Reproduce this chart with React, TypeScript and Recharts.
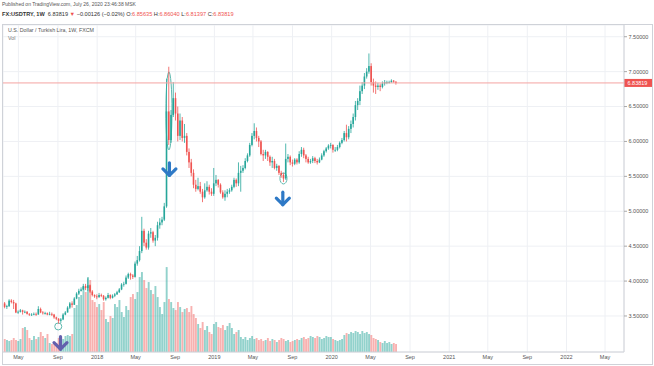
import React from "react";
import { Bar, CartesianGrid, ComposedChart, ReferenceArea, ReferenceDot, ReferenceLine, XAxis, YAxis } from "recharts";

// weekly candles, first bar = week of 2017-03-20; open of each bar = previous close
const firstWeek = "2017-03-20";
const firstOpen = 3.68;

const closes = [
  // 2017
  3.63, 3.64, 3.72, 3.70, 3.68, 3.55, 3.56, 3.58, 3.56, 3.56,
  3.53, 3.52, 3.52, 3.53, 3.52, 3.60, 3.55, 3.54, 3.54, 3.52,
  3.53, 3.52, 3.48, 3.46, 3.43, 3.45, 3.52, 3.55, 3.62, 3.68,
  3.66, 3.75, 3.82, 3.86, 3.88, 3.93, 3.90, 3.94, 3.85, 3.80, 3.78,
  // 2018
  3.77, 3.80, 3.79, 3.74, 3.76, 3.80, 3.76, 3.79, 3.81, 3.84,
  3.88, 3.95, 3.96, 4.05, 4.10, 4.08, 4.06, 4.25, 4.30, 4.43,
  4.72, 4.55, 4.48, 4.68, 4.70, 4.58, 4.62, 4.80, 4.84, 4.88,
  5.07, 6.43, 6.02, 6.38, 6.62, 6.40, 6.08, 6.30, 6.05, 6.08,
  5.85, 5.70, 5.55, 5.38, 5.32, 5.36, 5.28, 5.20, 5.30, 5.35, 5.28, 5.25,
  // 2019
  5.40, 5.45, 5.38, 5.27, 5.20, 5.25, 5.28, 5.30, 5.35, 5.45,
  5.40, 5.55, 5.58, 5.62, 5.72, 5.80, 5.95, 6.08, 6.15, 6.05,
  6.00, 5.82, 5.80, 5.85, 5.78, 5.70, 5.72, 5.62, 5.65, 5.55,
  5.52, 5.47, 5.75, 5.78, 5.70, 5.68, 5.74, 5.70, 5.82, 5.88,
  5.80, 5.75, 5.70, 5.72, 5.76, 5.72, 5.70, 5.74, 5.80, 5.86, 5.90, 5.94,
  // 2020
  5.95, 5.88, 5.88, 5.92, 5.98, 6.02, 6.12, 6.06, 6.18, 6.25,
  6.35, 6.52, 6.58, 6.72, 6.80, 6.93, 7.00, 7.08, 6.85, 6.80,
  6.78, 6.80, 6.78, 6.83, 6.85, 6.85, 6.85, 6.87, 6.85635, 6.83819,
];

const highs = [
  3.70, 3.66, 3.74, 3.74, 3.73, 3.69, 3.58, 3.60, 3.59, 3.58,
  3.57, 3.54, 3.54, 3.55, 3.55, 3.64, 3.62, 3.57, 3.56, 3.55,
  3.56, 3.55, 3.53, 3.49, 3.47, 3.47, 3.54, 3.57, 3.64, 3.70,
  3.71, 3.77, 3.84, 3.89, 3.91, 3.96, 3.96, 4.04, 3.95, 3.87, 3.81,
  3.81, 3.83, 3.82, 3.80, 3.78, 3.83, 3.81, 3.81, 3.83, 3.86,
  3.90, 3.97, 3.99, 4.08, 4.12, 4.12, 4.10, 4.28, 4.36, 4.50,
  4.92, 4.75, 4.60, 4.72, 4.76, 4.72, 4.66, 4.85, 4.90, 4.92,
  5.12, 6.90, 7.07, 6.45, 6.85, 6.70, 6.50, 6.40, 6.35, 6.25,
  6.12, 5.90, 5.75, 5.60, 5.45, 5.48, 5.42, 5.32, 5.40, 5.43, 5.38, 5.33,
  5.62, 5.52, 5.46, 5.40, 5.30, 5.30, 5.32, 5.33, 5.38, 5.48,
  5.47, 5.70, 5.65, 5.66, 5.76, 5.83, 5.98, 6.12, 6.26, 6.20,
  6.08, 6.02, 5.88, 5.88, 5.86, 5.80, 5.78, 5.75, 5.68, 5.66,
  5.58, 5.55, 5.97, 5.82, 5.80, 5.74, 5.76, 5.76, 5.86, 5.92,
  5.91, 5.82, 5.78, 5.75, 5.79, 5.78, 5.75, 5.77, 5.83, 5.88, 5.92, 5.96,
  5.98, 5.96, 5.92, 5.95, 6.00, 6.05, 6.15, 6.24, 6.22, 6.30,
  6.40, 6.58, 6.62, 6.80, 6.85, 6.98, 7.05, 7.26, 7.12, 6.90,
  6.86, 6.84, 6.83, 6.86, 6.88, 6.87, 6.87, 6.89, 6.88, 6.8604,
];

const lows = [
  3.61, 3.60, 3.63, 3.68, 3.60, 3.54, 3.53, 3.55, 3.52, 3.54,
  3.52, 3.50, 3.50, 3.51, 3.50, 3.52, 3.54, 3.52, 3.52, 3.51,
  3.51, 3.50, 3.46, 3.44, 3.39, 3.40, 3.44, 3.51, 3.55, 3.60,
  3.62, 3.66, 3.74, 3.80, 3.85, 3.87, 3.87, 3.86, 3.83, 3.78, 3.76,
  3.74, 3.76, 3.77, 3.72, 3.72, 3.75, 3.74, 3.75, 3.77, 3.80,
  3.83, 3.87, 3.92, 3.95, 4.03, 4.02, 4.03, 4.05, 4.22, 4.28,
  4.40, 4.50, 4.45, 4.45, 4.62, 4.55, 4.50, 4.58, 4.75, 4.80,
  4.86, 5.05, 5.95, 5.98, 6.35, 6.30, 6.00, 6.02, 6.00, 5.98,
  5.80, 5.62, 5.50, 5.33, 5.28, 5.30, 5.25, 5.13, 5.18, 5.28, 5.24, 5.22,
  5.22, 5.36, 5.34, 5.25, 5.18, 5.15, 5.20, 5.25, 5.28, 5.33,
  5.35, 5.36, 5.28, 5.55, 5.60, 5.70, 5.78, 5.93, 6.03, 6.00,
  5.92, 5.80, 5.72, 5.75, 5.72, 5.65, 5.62, 5.60, 5.58, 5.52,
  5.48, 5.42, 5.45, 5.70, 5.66, 5.64, 5.66, 5.67, 5.68, 5.78,
  5.76, 5.70, 5.68, 5.68, 5.69, 5.69, 5.67, 5.69, 5.73, 5.78, 5.84, 5.88,
  5.90, 5.84, 5.85, 5.86, 5.90, 5.96, 6.00, 6.00, 6.03, 6.12,
  6.20, 6.30, 6.45, 6.52, 6.68, 6.75, 6.90, 6.97, 6.80, 6.70,
  6.68, 6.74, 6.72, 6.76, 6.80, 6.82, 6.83, 6.84, 6.84, 6.81397,
];

const volumes = [
  13, 12, 11, 12, 14, 12, 11, 13, 24, 25,
  22, 14, 12, 16, 13, 15, 20, 16, 14, 18,
  9, 8, 10, 9, 14, 15, 13, 16, 17, 16,
  18, 44, 47, 55, 57, 65, 60, 75, 72, 52, 50,
  45, 48, 42, 50, 33, 30, 36, 34, 48, 45,
  52, 40, 35, 46, 42, 55, 58, 53, 60, 75,
  80, 72, 64, 70, 62, 58, 66, 55, 45, 38,
  50, 85, 53, 50, 44, 42, 50, 45, 40, 43,
  44, 40, 46, 38, 34, 28, 24, 30, 22, 26, 20, 18,
  28, 30, 25, 24, 27, 22, 26, 29, 24, 18,
  20, 22, 15, 13, 15, 12, 14, 16, 13, 14,
  12, 13, 11, 12, 14, 11, 13, 12, 10, 12,
  14, 13, 11, 12, 10, 11, 12, 13, 12, 14,
  15, 13, 14, 16, 15, 14, 16, 15, 13, 14, 16, 15,
  15, 13, 12, 11, 12, 13, 17, 19, 18, 20,
  19, 21, 20, 18, 21, 19, 20, 18, 17, 14,
  13, 12, 10, 9, 11, 9, 10, 8, 9, 8,
];

const priceTicks = [3.5, 4, 4.5, 5, 5.5, 6, 6.5, 7, 7.5];
const tickDates = [
  "2017-05-01", "2017-09-01", "2018-01-01", "2018-05-01", "2018-09-01", "2019-01-01", "2019-05-01", "2019-09-01",
  "2020-01-01", "2020-05-01", "2020-09-01", "2021-01-01", "2021-05-01", "2021-09-01", "2022-01-01", "2022-05-01",
];
const tickLabels = ["May", "Sep", "2018", "May", "Sep", "2019", "May", "Sep", "2020", "May", "Sep", "2021", "May", "Sep", "2022", "May"];
const viewDates = ["2017-03-14", "2022-06-29"];
const priceRange = [2.984, 7.668];
const lastPrice = 6.83819;

// drawn annotations on the chart
const arrows = [
  { date: "2018-08-14", price: 5.6, color: "#2e79c6" },
  { date: "2019-08-02", price: 5.18, color: "#2e79c6" },
  { date: "2017-09-09", price: 3.11, color: "#6360ad" },
];
const circles = [
  { from: "2017-08-22", to: "2017-09-13", low: 3.3, high: 3.4 },
  { from: "2018-08-03", to: "2018-08-22", low: 5.878, high: 6.996 },
  { from: "2019-07-24", to: "2019-08-15", low: 5.391, high: 5.549 },
];

const UP = "#26a69a";
const DOWN = "#ef5350";
const FONT = "'Liberation Sans', Arial, sans-serif";
const ms = (d: string) => Date.parse(d + "T00:00:00Z");
const WEEK = 7 * 86400000;

const rows = closes.map((close, i) => {
  const open = i === 0 ? firstOpen : closes[i - 1];
  const high = Math.max(highs[i], open, close);
  const low = Math.min(lows[i], open, close);
  return { t: ms(firstWeek) + i * WEEK, open, close, high, low, range: [low, high], vol: volumes[i], up: close >= open };
});

const labelOf = new Map(tickDates.map((d, i) => [ms(d), tickLabels[i]]));

function Candle(props: any) {
  const { x, y, width, height, payload } = props;
  if (!payload || !Number.isFinite(y)) return null;
  const top = Math.min(y, y + height);
  const h = Math.abs(height);
  const k = payload.high > payload.low ? h / (payload.high - payload.low) : 0;
  const yo = top + (payload.high - payload.open) * k;
  const yc = top + (payload.high - payload.close) * k;
  const color = payload.up ? UP : DOWN;
  const cx = x + width / 2;
  return (
    <g>
      <line x1={cx} x2={cx} y1={top} y2={top + h} stroke={color} strokeWidth={0.8} />
      <rect x={x} y={Math.min(yo, yc)} width={width} height={Math.max(Math.abs(yo - yc), 0.8)} fill={color} />
    </g>
  );
}

function VolBar(props: any) {
  const { x, y, width, height, payload } = props;
  if (!payload || !Number.isFinite(y)) return null;
  return <rect x={x} y={y} width={width} height={height} fill={payload.up ? "rgba(38,166,154,0.5)" : "rgba(239,83,80,0.45)"} />;
}

function PriceTag(props: any) {
  const vb = props.viewBox;
  if (!vb) return null;
  const x = vb.x + vb.width;
  return (
    <g>
      <rect x={x} y={vb.y - 4} width={28} height={8} fill={DOWN} />
      <text x={x + 3.5} y={vb.y + 2} fontSize={5.5} fill="#fff" fontFamily={FONT}>{lastPrice.toFixed(5)}</text>
    </g>
  );
}

function arrowShape(color: string) {
  return (p: any) => (
    <g stroke={color} strokeWidth={3.2} strokeLinecap="round" strokeLinejoin="round" fill="none">
      <line x1={p.cx} y1={p.cy - 6.5} x2={p.cx} y2={p.cy + 6} />
      <polyline points={`${p.cx - 6.5},${p.cy - 0.5} ${p.cx},${p.cy + 6} ${p.cx + 6.5},${p.cy - 0.5}`} />
    </g>
  );
}

function ringShape(p: any) {
  return <ellipse cx={p.x + p.width / 2} cy={p.y + p.height / 2} rx={p.width / 2} ry={p.height / 2} fill="none" stroke="#5db8ae" strokeWidth={1} />;
}

export default function App() {
  const dom = [ms(viewDates[0]), ms(viewDates[1])];
  return (
    <div style={{ position: "absolute", left: 0, top: 0, width: 654, height: 366, background: "#fff", overflow: "hidden", fontFamily: FONT }}>
      <ComposedChart width={654} height={366} data={rows} margin={{ top: 25, right: 0, bottom: 0, left: 3 }} style={{ position: "absolute", left: 0, top: 0 }}>
        <XAxis xAxisId="t" dataKey="t" type="number" domain={dom} allowDataOverflow ticks={tickDates.map(ms)} interval={0}
          tickFormatter={(v: number) => labelOf.get(v) ?? ""} tick={{ fontSize: 5.5, fill: "#555", fontFamily: FONT }}
          tickLine={false} tickSize={0} axisLine={{ stroke: "#cfd2d8" }} height={14} tickMargin={3} />
        <XAxis xAxisId="v" dataKey="t" type="number" domain={dom} allowDataOverflow hide />
        <YAxis yAxisId="p" orientation="right" domain={priceRange} allowDataOverflow ticks={priceTicks} interval={0}
          tickFormatter={(v: number) => v.toFixed(5)} width={30} tick={{ fontSize: 5.5, fill: "#555", fontFamily: FONT }}
          tickSize={3} tickLine={{ stroke: "#aaa" }} axisLine={{ stroke: "#cfd2d8" }} tickMargin={1.5} />
        <YAxis yAxisId="vol" hide domain={[0, (max: number) => max * 3.85]} />
        <CartesianGrid xAxisId="t" yAxisId="p" stroke="#eef0f4" />
        <Bar xAxisId="v" yAxisId="vol" dataKey="vol" barSize={1.9} shape={VolBar} isAnimationActive={false} />
        <ReferenceLine xAxisId="t" yAxisId="p" y={lastPrice} stroke="#f4a4a2" strokeWidth={1} label={<PriceTag />} />
        <Bar xAxisId="t" yAxisId="p" dataKey="range" barSize={1.6} shape={Candle} isAnimationActive={false} />
        {circles.map((c, i) => (
          <ReferenceArea key={"c" + i} xAxisId="t" yAxisId="p" x1={ms(c.from)} x2={ms(c.to)} y1={c.low} y2={c.high} shape={ringShape} />
        ))}
        {arrows.map((a, i) => (
          <ReferenceDot key={"a" + i} xAxisId="t" yAxisId="p" x={ms(a.date)} y={a.price} r={7} shape={arrowShape(a.color)} />
        ))}
      </ComposedChart>
      <div style={{ position: "absolute", left: 2, top: 24, width: 649, height: 339, border: "1px solid #cfd2d8", pointerEvents: "none" }} />
      <div style={{ position: "absolute", left: 2, top: 1, fontSize: 5, color: "#555", whiteSpace: "nowrap" }}>
        Published on TradingView.com, July 26, 2020 23:46:38 MSK
      </div>
      <div style={{ position: "absolute", left: 2, top: 11, fontSize: 5.6, color: "#333", whiteSpace: "nowrap" }}>
        <b>FX:USDTRY, 1W</b>&nbsp; 6.83819 <span style={{ color: DOWN }}>▼</span> −0.00126 (−0.02%) O:<span style={{ color: DOWN }}>6.85635</span> H:<span style={{ color: DOWN }}>6.86040</span> L:<span style={{ color: DOWN }}>6.81397</span> C:<span style={{ color: DOWN }}>6.83819</span>
      </div>
      <div style={{ position: "absolute", left: 8, top: 27, fontSize: 5.3, color: "#555", whiteSpace: "nowrap" }}>U.S. Dollar / Turkish Lira, 1W, FXCM</div>
      <div style={{ position: "absolute", left: 8, top: 35, fontSize: 5.3, color: "#777" }}>Vol</div>
    </div>
  );
}
